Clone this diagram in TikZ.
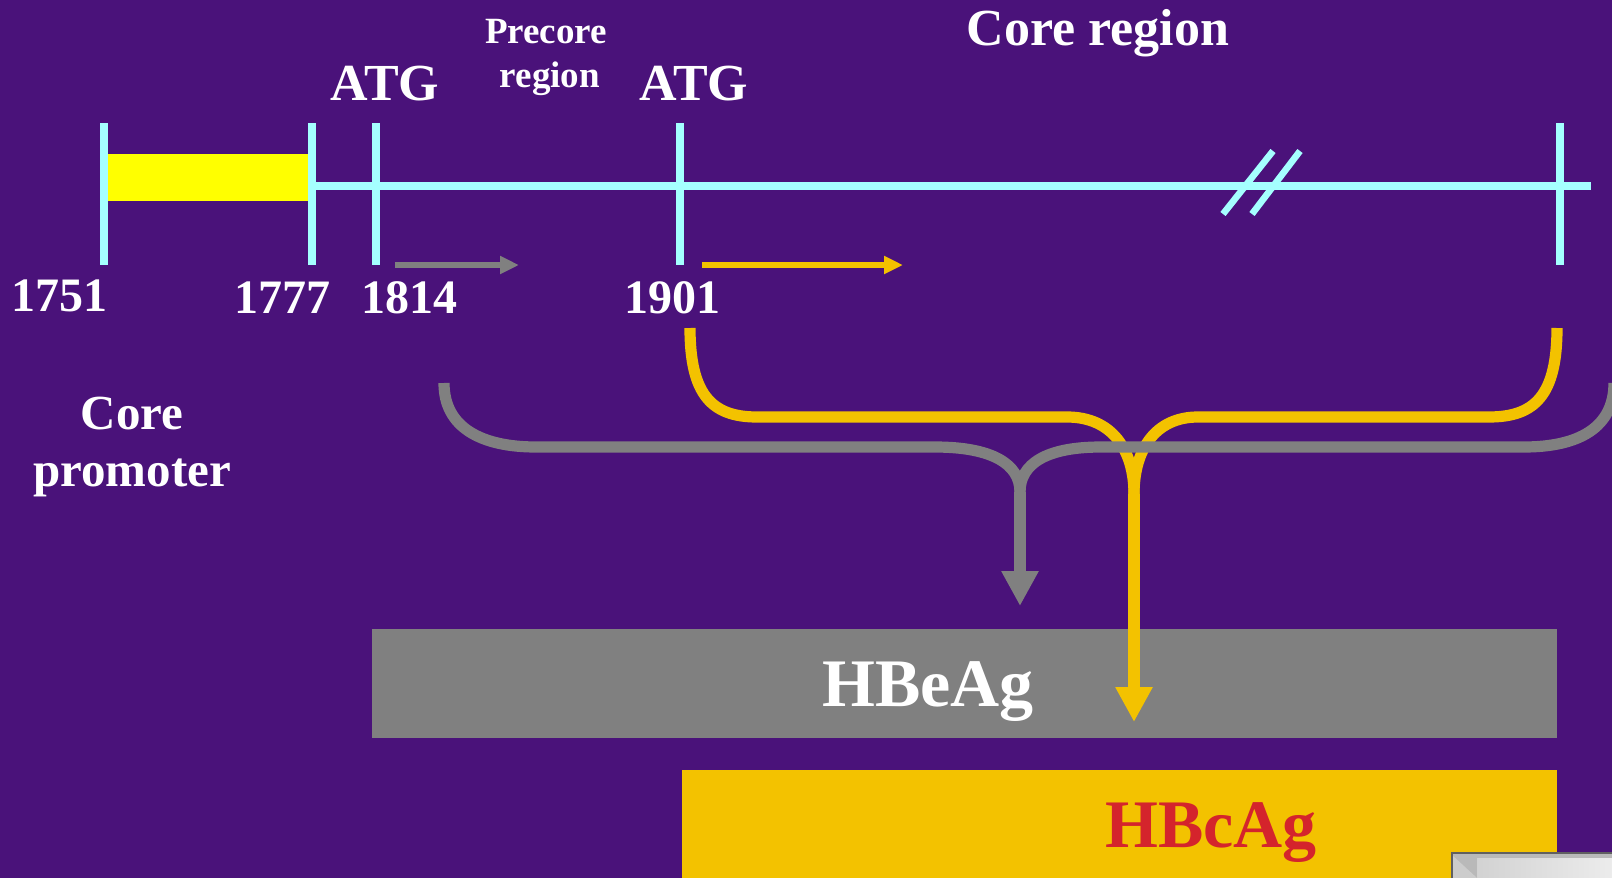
\documentclass[tikz,border=0pt]{standalone}
\usepackage{fontspec}
\setmainfont{Liberation Serif}
\usetikzlibrary{arrows.meta}
\definecolor{bgpurple}{RGB}{74,18,122}
\definecolor{cyanline}{RGB}{165,255,255}
\definecolor{hilite}{RGB}{255,255,0}
\definecolor{gold}{RGB}{243,194,0}
\definecolor{midgray}{RGB}{128,128,128}
\definecolor{hbcred}{RGB}{212,36,44}
\begin{document}
\begin{tikzpicture}[x=0.5pt,y=-0.5pt,
  tickline/.style={draw=cyanline,line width=4pt},
  txt/.style={text=white,anchor=base,inner sep=0pt,font=\bfseries\fontsize{#1}{#1}\selectfont},
  brace/.style={line width=5.6pt},
  bigtip/.style={-{Triangle[length=17.5pt,width=17.5pt]}},
  smalltip/.style={-{Triangle[length=9.5pt,width=8.5pt]},line width=3.3pt},
]
\useasboundingbox (0,0) rectangle (1612,878);
\fill[bgpurple] (0,0) rectangle (1612,878);

% boxes
\fill[midgray] (372,629) rectangle (1557,738);
\node[txt=34pt] (hbe) at (928,706) {HBeAg};
\fill[gold] (682,770) rectangle (1557,878);
\node[txt=34pt,text=hbcred] (hbc) at (1211,847) {HBcAg};

% highlighted core promoter region
\fill[hilite] (107,154) rectangle (308,201);

% main line and ticks
\coordinate (lineL) at (311,186);
\coordinate (lineR) at (1591,186);
\draw[tickline] (lineL) -- (lineR);
\foreach \x/\n in {104/a,311.5/b,376/c,680/d,1559.5/e}{
  \coordinate (t\n top) at (\x,123);
  \coordinate (t\n bot) at (\x,265);
  \draw[tickline] (t\n top) -- (t\n bot);
}
% break marks
\draw[draw=cyanline,line width=3.3pt] (1223,214) -- (1273,151);
\draw[draw=cyanline,line width=3.3pt] (1252,214) -- (1300,151);

% labels
\node[txt=24pt] (l1751) at (59,311) {1751};
\node[txt=24pt] (l1777) at (282,313) {1777};
\node[txt=24pt] (l1814) at (409,313) {1814};
\node[txt=24pt] (l1901) at (672,313) {1901};
\node[txt=26pt] (atg1) at (385,100) {ATG};
\node[txt=26pt] (atg2) at (694,100) {ATG};
\node[txt=18.5pt] (pre1) at (546,43) {Precore};
\node[txt=18.5pt] (pre2) at (550,87) {region};
\node[txt=26pt] (corereg) at (1098,46) {Core region};
\node[txt=24.5pt] (cp1) at (132,429) {Core};
\node[txt=24.5pt] (cp2) at (132,486) {promoter};

% small direction arrows
\coordinate (ga1) at (395,265); \coordinate (ga2) at (519,265);
\coordinate (ya1) at (702,265); \coordinate (ya2) at (903,265);
\draw[smalltip,draw=midgray,fill=midgray] (ga1) -- (ga2);
\draw[smalltip,draw=gold,fill=gold] (ya1) -- (ya2);

% yellow brace (core region)
\coordinate (yL) at (690,328);
\coordinate (yR) at (1557,328);
\coordinate (yC) at (1134,494);
\coordinate (yT) at (1134,722);
\draw[brace,draw=gold] (yL) .. controls (690,395) and (712,417) .. (757,417)
  -- (1067,417) .. controls (1112,417) and (1134,450) .. (yC);
\draw[brace,draw=gold] (yR) .. controls (1557,395) and (1535,417) .. (1489,417)
  -- (1198,417) .. controls (1155,417) and (1134,450) .. (yC);
\draw[brace,draw=gold,fill=gold,bigtip] (yC) -- (yT);

% gray brace (precore + core)
\coordinate (gL) at (444,383);
\coordinate (gR) at (1614,383);
\coordinate (gC) at (1020,492);
\coordinate (gT) at (1020,606);
\draw[brace,draw=midgray] (gL) .. controls (444,428) and (482,447) .. (536,447)
  -- (935,447) .. controls (992,447) and (1020,464) .. (gC);
\draw[brace,draw=midgray] (gR) .. controls (1614,428) and (1578,447) .. (1524,447)
  -- (1101,447) .. controls (1046,447) and (1020,464) .. (gC);
\draw[brace,draw=midgray,fill=midgray,bigtip] (gC) -- (gT);

% silver corner button
\fill[gray!55] (1452,853) rectangle (1612,878);
\shade[left color=gray!35,right color=white!85!gray] (1477,858) -- (1612,858) -- (1612,878) -- (1477,878) -- cycle;
\fill[gray!40] (1452,855) -- (1477,878) -- (1452,878) -- cycle;
\draw[gray!75!black,line width=0.8pt] (1452,878) -- (1452,853) -- (1612,853);
\end{tikzpicture}
\end{document}
